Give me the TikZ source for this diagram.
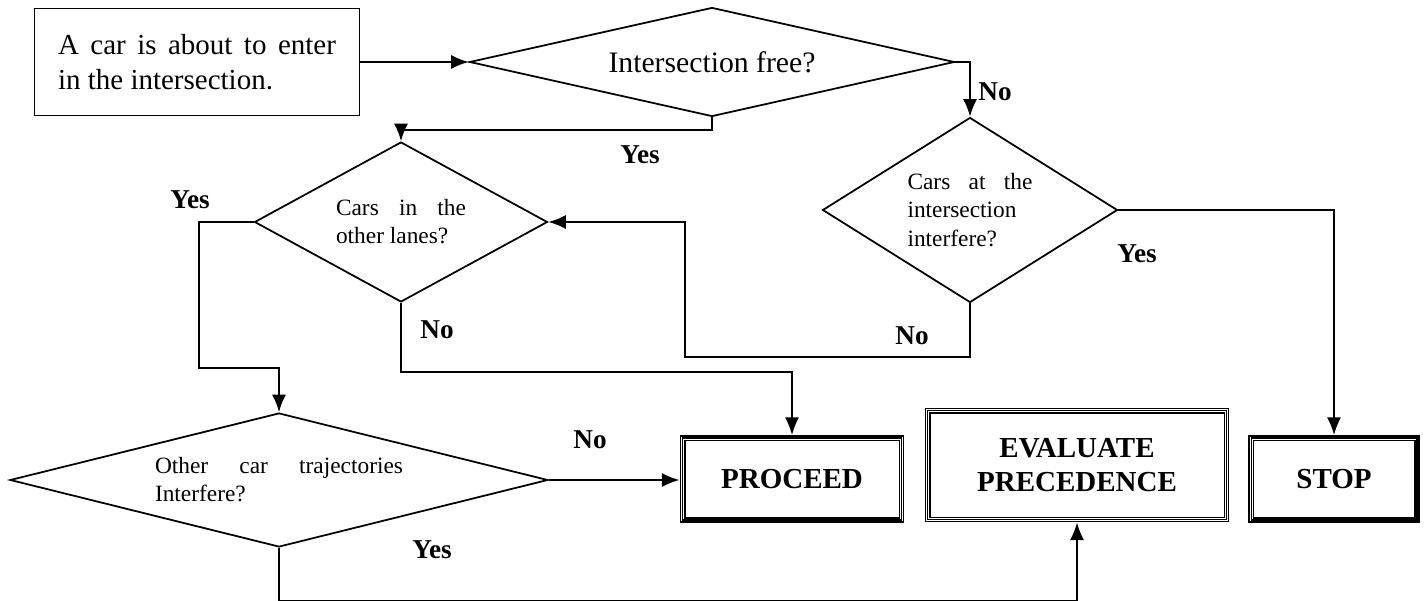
\documentclass[tikz,border=0pt]{standalone}
\usepackage{fontspec}
\setmainfont{Liberation Serif}
\usetikzlibrary{shapes.geometric,arrows.meta}
\hyphenpenalty=10000
\tolerance=10000

\tikzset{
  startbox/.style={draw, line width=1pt, minimum width=6.5cm, minimum height=2.14cm,
    text width=5.56cm, align=justify, font=\fontsize{16.5}{19.8}\selectfont},
  decision/.style={draw, diamond, line width=1pt, inner sep=0pt,
    font=\fontsize{13.3}{16}\selectfont},
  endbox/.style={draw=white, line width=1.7pt, preaction={draw=black, line width=3.4pt},
    postaction={draw=black, line width=0.6pt}, outer sep=1.7pt, align=center,
    font=\fontsize{16.5}{19.8}\selectfont\bfseries},
  answer/.style={font=\fontsize{15.5}{18}\selectfont\bfseries},
  flow/.style={line width=1pt, -{Latex[length=10pt,width=8pt]}},
}

\begin{document}
\begin{tikzpicture}[x=0.02cm, y=-0.02cm]
\useasboundingbox (0,0) rectangle (1426,601);

\node[startbox] (start) at (197,62) {A car is about to enter\linebreak in the intersection.};
\node[decision, aspect=4.45, minimum width=9.7cm, minimum height=2.18cm,
  font=\fontsize{16.9}{20}\selectfont] (free) at (712,62) {Intersection free?};
\node[decision, aspect=1.83, minimum width=5.86cm, minimum height=3.2cm,
  text width=2.6cm, align=justify] (lanes) at (401,222) {Cars in the\linebreak other lanes?};
\node[decision, aspect=1.6, minimum width=5.9cm, minimum height=3.7cm,
  text width=2.5cm, align=justify] (inter) at (970,210) {Cars at the\linebreak intersection interfere?};
\node[decision, aspect=4, minimum width=10.76cm, minimum height=2.68cm,
  text width=4.96cm, align=justify] (traj) at (279,480) {Other car trajectories\linebreak Interfere?};

\node[endbox, minimum width=4.38cm, minimum height=1.64cm] (proceed) at (792,479) {PROCEED};
\node[endbox, minimum width=5.98cm, minimum height=2.18cm] (evaluate) at (1077,465) {EVALUATE\\PRECEDENCE};
\node[endbox, minimum width=3.32cm, minimum height=1.64cm] (stop) at (1334,479) {STOP};

% answers
\node[answer] (freeyes) at (640,155) {Yes};
\node[answer] (freeno) at (995,92) {No};
\node[answer] (lanesyes) at (190,200) {Yes};
\node[answer] (lanesno) at (437,330) {No};
\node[answer] (interyes) at (1137,254) {Yes};
\node[answer] (interno) at (912,336) {No};
\node[answer] (trajno) at (590,440) {No};
\node[answer] (trajyes) at (432,550) {Yes};

\coordinate (back) at (685,357);

\draw[flow] (start.east) -- (free.west);
\draw[flow] (free.south) -- ++(0,13) -| (lanes.north);
\draw[flow] (free.east) -| (inter.north);
\draw[flow] (inter.east) -| (stop.north);
\draw[flow] (inter.south) |- (back) |- (lanes.east);
\draw[flow] (lanes.south) -- ++(0,69) -| (proceed.north);
\draw[flow] (lanes.west) -- ++(-55,0) -- ++(0,146) -| (traj.north);
\draw[flow] (traj.east) -- (traj.east -| proceed.west);
\draw[flow] (traj.south) -- ++(0,53) -| (evaluate.south);
\end{tikzpicture}
\end{document}
